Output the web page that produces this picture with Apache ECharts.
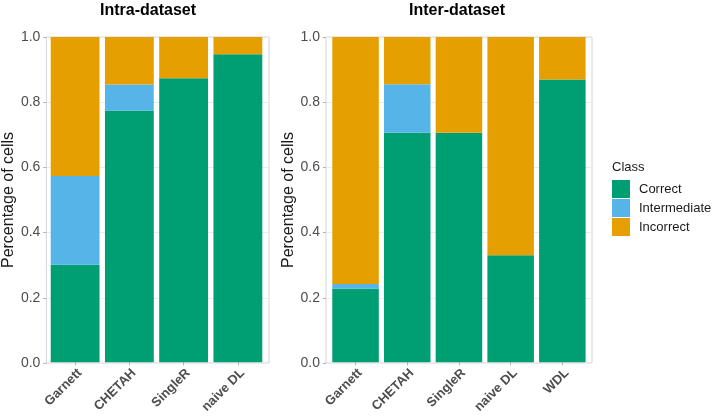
<!DOCTYPE html>
<html><head><meta charset="utf-8">
<script src="https://cdn.jsdelivr.net/npm/echarts@6/dist/echarts.min.js"></script>
<style>html,body{margin:0;padding:0;background:#fff}#c{width:713px;height:416px}</style>
</head><body><div id="c"></div>
<script>
const intraCategories = ['Garnett', 'CHETAH', 'SingleR', 'naive DL'];
const intraCorrect = [0.30, 0.774, 0.873, 0.947];
const intraIntermediate = [0.273, 0.080, 0, 0];
const intraIncorrect = [0.427, 0.146, 0.127, 0.053];

const interCategories = ['Garnett', 'CHETAH', 'SingleR', 'naive DL', 'WDL'];
const interCorrect = [0.227, 0.706, 0.706, 0.329, 0.869];
const interIntermediate = [0.014, 0.149, 0, 0, 0];
const interIncorrect = [0.759, 0.145, 0.294, 0.671, 0.131];

const classNames = ['Correct', 'Intermediate', 'Incorrect'];
const classColors = ['#009E73', '#56B4E9', '#E69F00'];
const yTicks = [0, 0.2, 0.4, 0.6, 0.8, 1.0];
const panelTitles = ['Intra-dataset', 'Inter-dataset'];

const FONT = '"Liberation Sans", Arial, Helvetica, sans-serif';
const chart = echarts.init(document.getElementById('c'));

const frameGrids = [
  {left: 43, top: 37, width: 226, height: 326},
  {left: 326, top: 37, width: 266, height: 326}
];
const barGrids = [
  {left: 48, top: 37, width: 217, height: 326},
  {left: 329.7, top: 37, width: 258.5, height: 326}
];

const grids = [];
const xAxes = [];
const yAxes = [];
frameGrids.forEach((g) => {
  grids.push(Object.assign({show: true, borderColor: '#d3d3dd', borderWidth: 1, backgroundColor: 'transparent'}, g));
});
barGrids.forEach((g) => grids.push(Object.assign({show: false}, g)));

[0, 1].forEach((i) => {
  xAxes.push({gridIndex: i, type: 'value', min: 0, max: 1, show: false});
  yAxes.push({
    gridIndex: i, type: 'value', min: yTicks[0], max: yTicks[yTicks.length - 1], interval: 0.2,
    name: 'Percentage of cells', nameLocation: 'middle', nameGap: 28, nameRotate: 90,
    nameTextStyle: {fontFamily: FONT, fontSize: 16, color: '#1a1a1a'},
    axisLine: {show: false},
    axisTick: {show: true, length: 3, lineStyle: {color: '#b0b0b0'}},
    axisLabel: {fontFamily: FONT, fontSize: 14, color: '#4d4d4d', margin: 6, formatter: (v) => v.toFixed(1)},
    splitLine: {show: true, lineStyle: {color: '#ebebeb', width: 1}}
  });
});
[intraCategories, interCategories].forEach((cats, k) => {
  xAxes.push({
    gridIndex: 2 + k, type: 'category', data: cats,
    axisLine: {show: false},
    axisTick: {show: true, alignWithLabel: true, length: 3, lineStyle: {color: '#b0b0b0'}},
    axisLabel: {rotate: 45, fontFamily: FONT, fontSize: 13, fontWeight: 'bold', color: '#4d4d4d', margin: 4, interval: 0, verticalAlign: 'top'}
  });
  yAxes.push({gridIndex: 2 + k, type: 'value', min: 0, max: 1, show: false});
});

const seriesData = [
  [intraCorrect, intraIntermediate, intraIncorrect],
  [interCorrect, interIntermediate, interIncorrect]
];
const series = [];
seriesData.forEach((panel, k) => {
  panel.forEach((vals, j) => {
    series.push({
      name: classNames[j], type: 'bar', stack: 'p' + k,
      xAxisIndex: 2 + k, yAxisIndex: 2 + k,
      data: vals, barWidth: '90%',
      itemStyle: {color: classColors[j]},
      emphasis: {disabled: true}
    });
  });
});

chart.setOption({
  animation: false,
  backgroundColor: '#fff',
  title: [
    {text: panelTitles[0], left: 148, top: 3, padding: 0, textAlign: 'center', textStyle: {fontFamily: FONT, fontSize: 16, fontWeight: 'bold', color: '#000'}},
    {text: panelTitles[1], left: 457, top: 3, padding: 0, textAlign: 'center', textStyle: {fontFamily: FONT, fontSize: 16, fontWeight: 'bold', color: '#000'}},
    {text: 'Class', left: 612, top: 161, padding: 0, textStyle: {fontFamily: FONT, fontSize: 13, fontWeight: 'normal', color: '#1a1a1a'}}
  ],
  legend: {
    data: classNames, orient: 'vertical', left: 612, top: 180, padding: 0,
    itemWidth: 18, itemHeight: 18, itemGap: 1, icon: 'rect',
    selectedMode: false,
    textStyle: {fontFamily: FONT, fontSize: 13, color: '#1a1a1a', padding: [0, 0, 0, 4]}
  },
  grid: grids,
  xAxis: xAxes,
  yAxis: yAxes,
  series: series
});
</script></body></html>
